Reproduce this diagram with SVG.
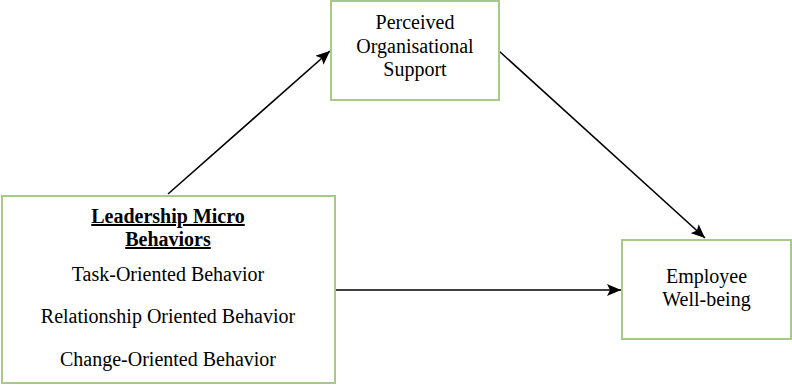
<svg xmlns="http://www.w3.org/2000/svg" width="792" height="385" viewBox="0 0 792 385">
<defs>
<style>
.box{fill:#ffffff;stroke:#a9c98c;stroke-width:2}
text{font-family:'Liberation Serif','DejaVu Serif',serif;font-size:20px;fill:#000;text-anchor:middle}
.b{font-weight:bold;text-decoration:underline}
.c{stroke:#000;stroke-width:1.6;fill:none;marker-end:url(#ah)}
</style>
<marker id="ah" markerUnits="userSpaceOnUse" markerWidth="16" markerHeight="12" refX="14" refY="6" orient="auto">
<path d="M0,0 L14,6 L0,12 L3,6 Z" fill="#000"/>
</marker>
</defs>
<rect width="792" height="385" fill="#fff"/>
<g id="connectors">
<line class="c" x1="168" y1="194" x2="330" y2="51"/>
<line class="c" x1="499" y1="51" x2="705" y2="238"/>
<line class="c" x1="336" y1="290" x2="621" y2="290"/>
</g>
<g id="pos">
<rect class="box" x="331" y="1" width="168" height="99"/>
<text x="415" y="29" font-family="Liberation Serif, serif">Perceived</text>
<text x="415" y="53" font-family="Liberation Serif, serif">Organisational</text>
<text x="415" y="76" font-family="Liberation Serif, serif">Support</text>
</g>
<g id="leadership">
<rect class="box" x="2" y="196" width="333" height="187"/>
<text class="b" x="168" y="223" font-family="Liberation Serif, serif">Leadership Micro</text>
<text class="b" x="168" y="246" font-family="Liberation Serif, serif">Behaviors</text>
<text x="168" y="281" font-family="Liberation Serif, serif">Task-Oriented Behavior</text>
<text x="168" y="323" font-family="Liberation Serif, serif">Relationship Oriented Behavior</text>
<text x="168" y="366" font-family="Liberation Serif, serif">Change-Oriented Behavior</text>
</g>
<g id="wellbeing">
<rect class="box" x="622" y="240" width="169" height="99"/>
<text x="706.5" y="283" font-family="Liberation Serif, serif">Employee</text>
<text x="706.5" y="306" font-family="Liberation Serif, serif">Well-being</text>
</g>
</svg>
